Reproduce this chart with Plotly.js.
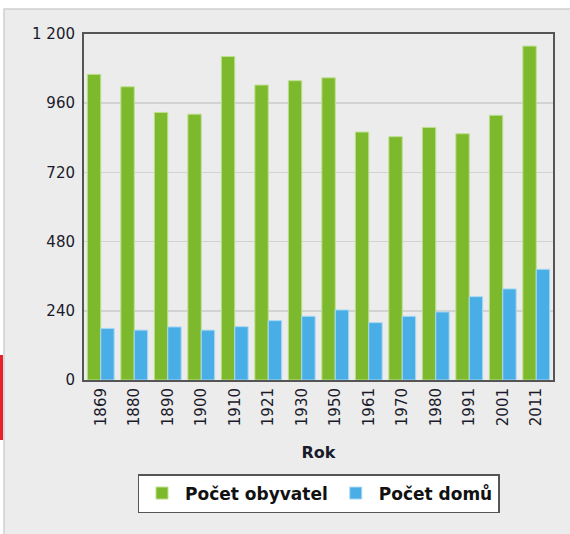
<!DOCTYPE html>
<html>
<head>
<meta charset="utf-8">
<script src="https://cdn.plot.ly/plotly-3.0.1.min.js"></script>
<style>html,body{margin:0;padding:0;background:#fff;}#chart{width:570px;height:534px;}</style>
</head>
<body>
<div id="chart"></div>
<script>
const years = ['1869','1880','1890','1900','1910','1921','1930','1950','1961','1970','1980','1991','2001','2011'];
const obyvatel = [1060,1017,928,922,1122,1023,1038,1048,860,844,876,854,918,1158];
const domu = [179,173,184,173,185,206,221,243,199,221,236,289,316,384];
const yTickVals = [0,240,480,720,960,1200];
const yTickText = ['0','240','480','720','960','1 200'];

const L = 84, R = 553, T = 34, B = 380;
const W = R - L, H = B - T;
const px = x => (x - L) / W;
const py = y => (B - y) / H;

const traces = [
  {type:'bar', name:'Počet obyvatel', x: years, y: obyvatel,
   marker:{color:'#7db92d', line:{color:'#bfe08f', width:1}}, hoverinfo:'x+y'},
  {type:'bar', name:'Počet domů', x: years, y: domu,
   marker:{color:'#4aaee6', line:{color:'#a9d9f5', width:1}}, hoverinfo:'x+y'}
];

const layout = {
  width:570, height:534,
  margin:{l:L, r:570-R, t:T, b:534-B, autoexpand:false},
  paper_bgcolor:'#ffffff',
  plot_bgcolor:'#ffffff',
  barmode:'group', bargap:0.2, bargroupgap:0,
  font:{family:'"DejaVu Sans", Verdana, sans-serif', size:15, color:'#1a1a2a'},
  xaxis:{type:'category', tickangle:-90, tickfont:{size:15, color:'#1a1a2a'},
    showline:true, mirror:true, linecolor:'#555', linewidth:2,
    showgrid:false, ticks:'', automargin:false,
    title:{text:'<b>Rok</b>', font:{size:16, color:'#1a1a2a'}, standoff:22}},
  yaxis:{range:[0,1200], tickvals:yTickVals, ticktext:yTickText,
    tickfont:{size:15, color:'#1a1a2a'}, showline:true, mirror:true,
    linecolor:'#555', linewidth:2, gridcolor:'#d2d2d2', gridwidth:1.5,
    zeroline:false, ticks:'', ticklabelstandoff:4, automargin:false},
  showlegend:true,
  legend:{orientation:'h', x:0.5, xanchor:'center', y:py(474), yanchor:'top',
    bgcolor:'#ffffff', bordercolor:'#555', borderwidth:1.5, itemwidth:36,
    font:{size:17, color:'#111', family:'"DejaVu Sans", Verdana, sans-serif', weight:'bold'},
    itemclick:false},
  shapes:[
    {type:'rect', xref:'paper', yref:'paper', layer:'below',
     x0:px(4), x1:px(575), y0:py(540), y1:py(9),
     fillcolor:'#ececec', line:{color:'#cfcfcf', width:1.5}},
    {type:'rect', xref:'paper', yref:'paper', layer:'below',
     x0:px(-2), x1:px(3), y0:py(440), y1:py(355),
     fillcolor:'#e8202a', line:{width:0}}
  ]
};

Plotly.newPlot('chart', traces, layout, {displayModeBar:false, staticPlot:true});
</script>
</body>
</html>
